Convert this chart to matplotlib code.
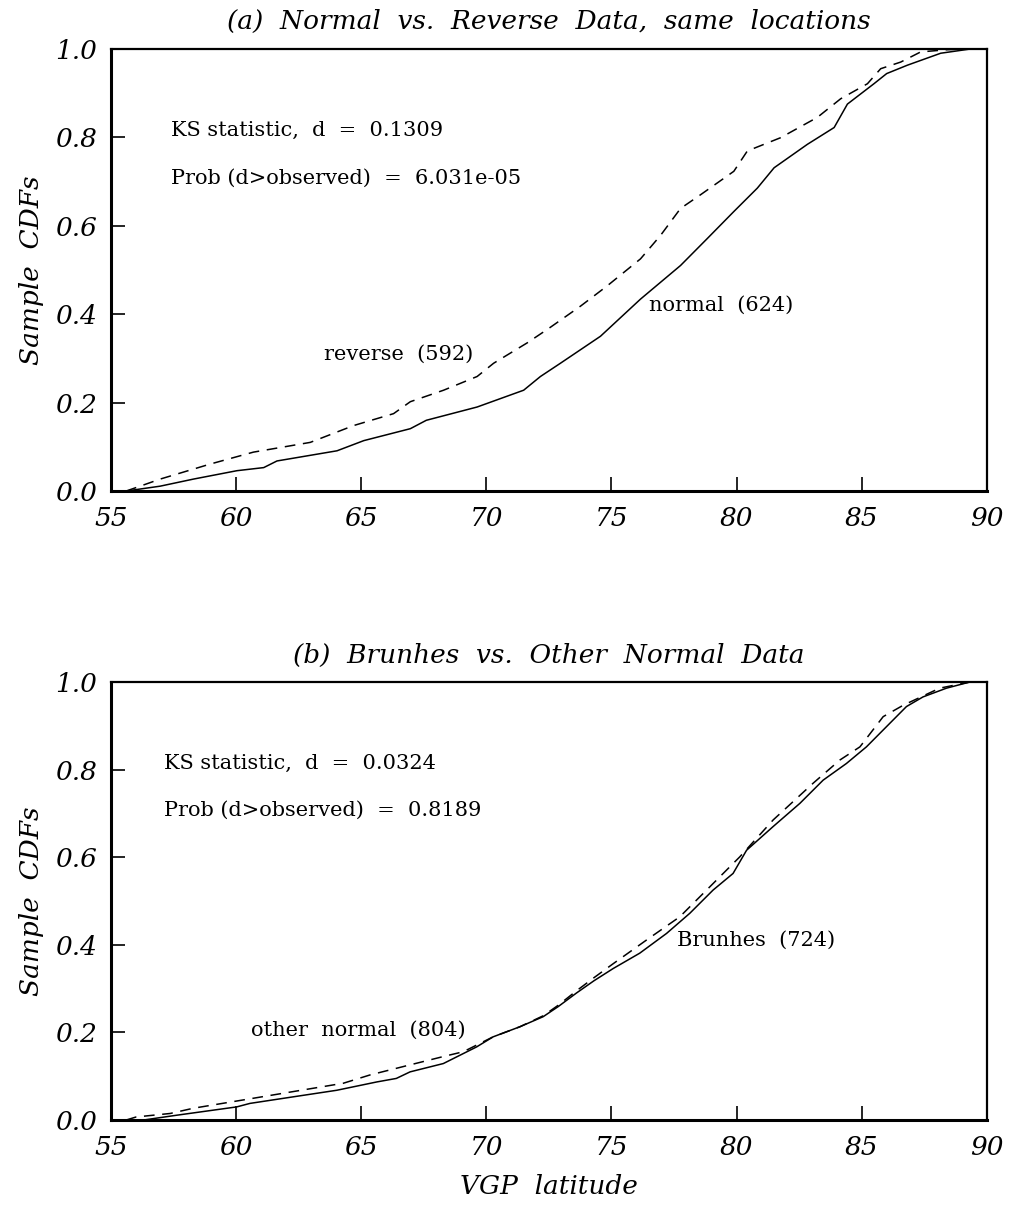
import matplotlib
matplotlib.use("Agg")
import matplotlib.pyplot as plt

plt.rcParams["font.family"] = ["DejaVu Serif"]

# panel (a): normal vs reverse
normal_lat = [55.6, 56.96, 58.29, 60.03, 61.1, 61.63, 64.03, 65.1, 66.96, 67.6, 69.63, 71.49,
              72.16, 72.96, 74.56, 76.16, 77.76, 78.83, 79.89, 80.83, 81.5, 82.83, 83.9,
              84.43, 85.49, 86.0, 86.83, 88.16, 89.4]
normal_cdf = [0.0, 0.011, 0.027, 0.046, 0.053, 0.068, 0.091, 0.114, 0.141, 0.160, 0.19, 0.228,
              0.259, 0.289, 0.35, 0.434, 0.51, 0.571, 0.632, 0.685, 0.731, 0.784, 0.822,
              0.875, 0.921, 0.944, 0.963, 0.99, 1.0]
reverse_lat = [55.6, 56.16, 56.96, 58.96, 60.69, 62.96, 64.69, 66.29, 66.96, 68.29, 69.63, 70.29,
               71.63, 72.5, 73.76, 74.83, 76.16, 76.96, 77.76, 78.56, 79.89, 80.43, 81.76,
               83.23, 84.16, 85.23, 85.76, 86.56, 87.36, 88.43, 89.4]
reverse_cdf = [0.0, 0.011, 0.027, 0.061, 0.088, 0.110, 0.148, 0.175, 0.202, 0.228, 0.259, 0.289,
               0.335, 0.368, 0.418, 0.464, 0.525, 0.578, 0.639, 0.670, 0.723, 0.769, 0.799,
               0.845, 0.887, 0.921, 0.955, 0.97, 0.993, 0.998, 1.0]

# panel (b): Brunhes vs other normal
brunhes_lat = [55.9, 56.29, 57.62, 60.02, 60.55, 62.28, 64.02, 65.62, 66.4, 66.95, 68.28, 69.61,
               70.27, 71.34, 72.27, 72.87, 73.6, 74.3, 75.07, 76.13, 77.2, 78.13, 79.06, 79.86,
               80.4, 81.46, 82.53, 83.46, 84.39, 85.19, 85.99, 86.79, 87.45, 88.39, 89.32]
brunhes_cdf = [0.0, 0.0, 0.011, 0.030, 0.038, 0.053, 0.068, 0.087, 0.095, 0.110, 0.129, 0.167,
               0.190, 0.213, 0.236, 0.259, 0.29, 0.318, 0.346, 0.381, 0.426, 0.472, 0.525, 0.563,
               0.616, 0.670, 0.723, 0.776, 0.814, 0.852, 0.898, 0.944, 0.966, 0.986, 1.0]
other_lat = [55.6, 56.0, 57.36, 58.29, 60.29, 62.28, 64.28, 65.35, 66.95, 68.28, 69.08, 70.27,
             71.34, 72.27, 72.87, 73.6, 74.3, 75.07, 76.4, 77.73, 78.8, 80.13, 81.46, 83.06,
             84.13, 84.93, 85.86, 86.66, 88.12, 89.32]
other_cdf = [0.0, 0.007, 0.015, 0.027, 0.046, 0.065, 0.084, 0.103, 0.126, 0.145, 0.156, 0.19,
             0.213, 0.238, 0.262, 0.295, 0.325, 0.357, 0.411, 0.464, 0.525, 0.601, 0.685, 0.769,
             0.822, 0.852, 0.921, 0.947, 0.986, 1.0]

x_ticks = [55, 60, 65, 70, 75, 80, 85, 90]
y_ticks = [0.0, 0.2, 0.4, 0.6, 0.8, 1.0]

panels = [
    dict(rect=[0.110, 0.5925, 0.867, 0.367],
         title="(a)  Normal  vs.  Reverse  Data,  same  locations",
         solid=(normal_lat, normal_cdf), dashed=(reverse_lat, reverse_cdf),
         ks="KS statistic,  d  =  0.1309", prob="Prob (d>observed)  =  6.031e-05", ks_x=57.4,
         solid_lbl=("normal  (624)", 76.5, 0.42), dashed_lbl=("reverse  (592)", 63.5, 0.31)),
    dict(rect=[0.110, 0.0705, 0.867, 0.3635],
         title="(b)  Brunhes  vs.  Other  Normal  Data",
         solid=(brunhes_lat, brunhes_cdf), dashed=(other_lat, other_cdf),
         ks="KS statistic,  d  =  0.0324", prob="Prob (d>observed)  =  0.8189", ks_x=57.1,
         solid_lbl=("Brunhes  (724)", 77.6, 0.41), dashed_lbl=("other  normal  (804)", 60.6, 0.205)),
]

fig = plt.figure(figsize=(10.1, 12.05), dpi=100)

for p in panels:
    ax = fig.add_axes(p["rect"])
    ax.plot(*p["solid"], color="black", lw=1.1)
    ax.plot(*p["dashed"], color="black", lw=1.1, dashes=(7, 5))
    ax.set_xlim(55, 90)
    ax.set_ylim(0, 1)
    ax.set_xticks(x_ticks)
    ax.set_yticks(y_ticks)
    ax.set_xticklabels([str(v) for v in x_ticks], fontsize=19, style="italic")
    ax.set_yticklabels([f"{v:.1f}" for v in y_ticks], fontsize=19, style="italic")
    ax.tick_params(direction="in", length=10, width=1.2, pad=10)
    ax.tick_params(axis="x", pad=11)
    for t in (ax.xaxis.get_major_ticks()[0], ax.xaxis.get_major_ticks()[-1],
              ax.yaxis.get_major_ticks()[0], ax.yaxis.get_major_ticks()[-1]):
        t.tick1line.set_visible(False)
    ax.spines["left"].set_linewidth(2.2)
    ax.spines["bottom"].set_linewidth(2.2)
    ax.spines["top"].set_linewidth(1.6)
    ax.spines["right"].set_linewidth(1.6)
    ax.set_title(p["title"], fontsize=19, style="italic", pad=14)
    ax.set_ylabel("Sample  CDFs", fontsize=19, style="italic", labelpad=8)
    ax.text(p["ks_x"], 0.815, p["ks"], fontsize=15, va="center")
    ax.text(p["ks_x"], 0.708, p["prob"], fontsize=15, va="center")
    lbl, lx, ly = p["solid_lbl"]
    ax.text(lx, ly, lbl, fontsize=15, va="center")
    lbl, lx, ly = p["dashed_lbl"]
    ax.text(lx, ly, lbl, fontsize=15, va="center")

ax.set_xlabel("VGP  latitude", fontsize=19, style="italic", labelpad=10)

fig.savefig("out.png", dpi=100)
